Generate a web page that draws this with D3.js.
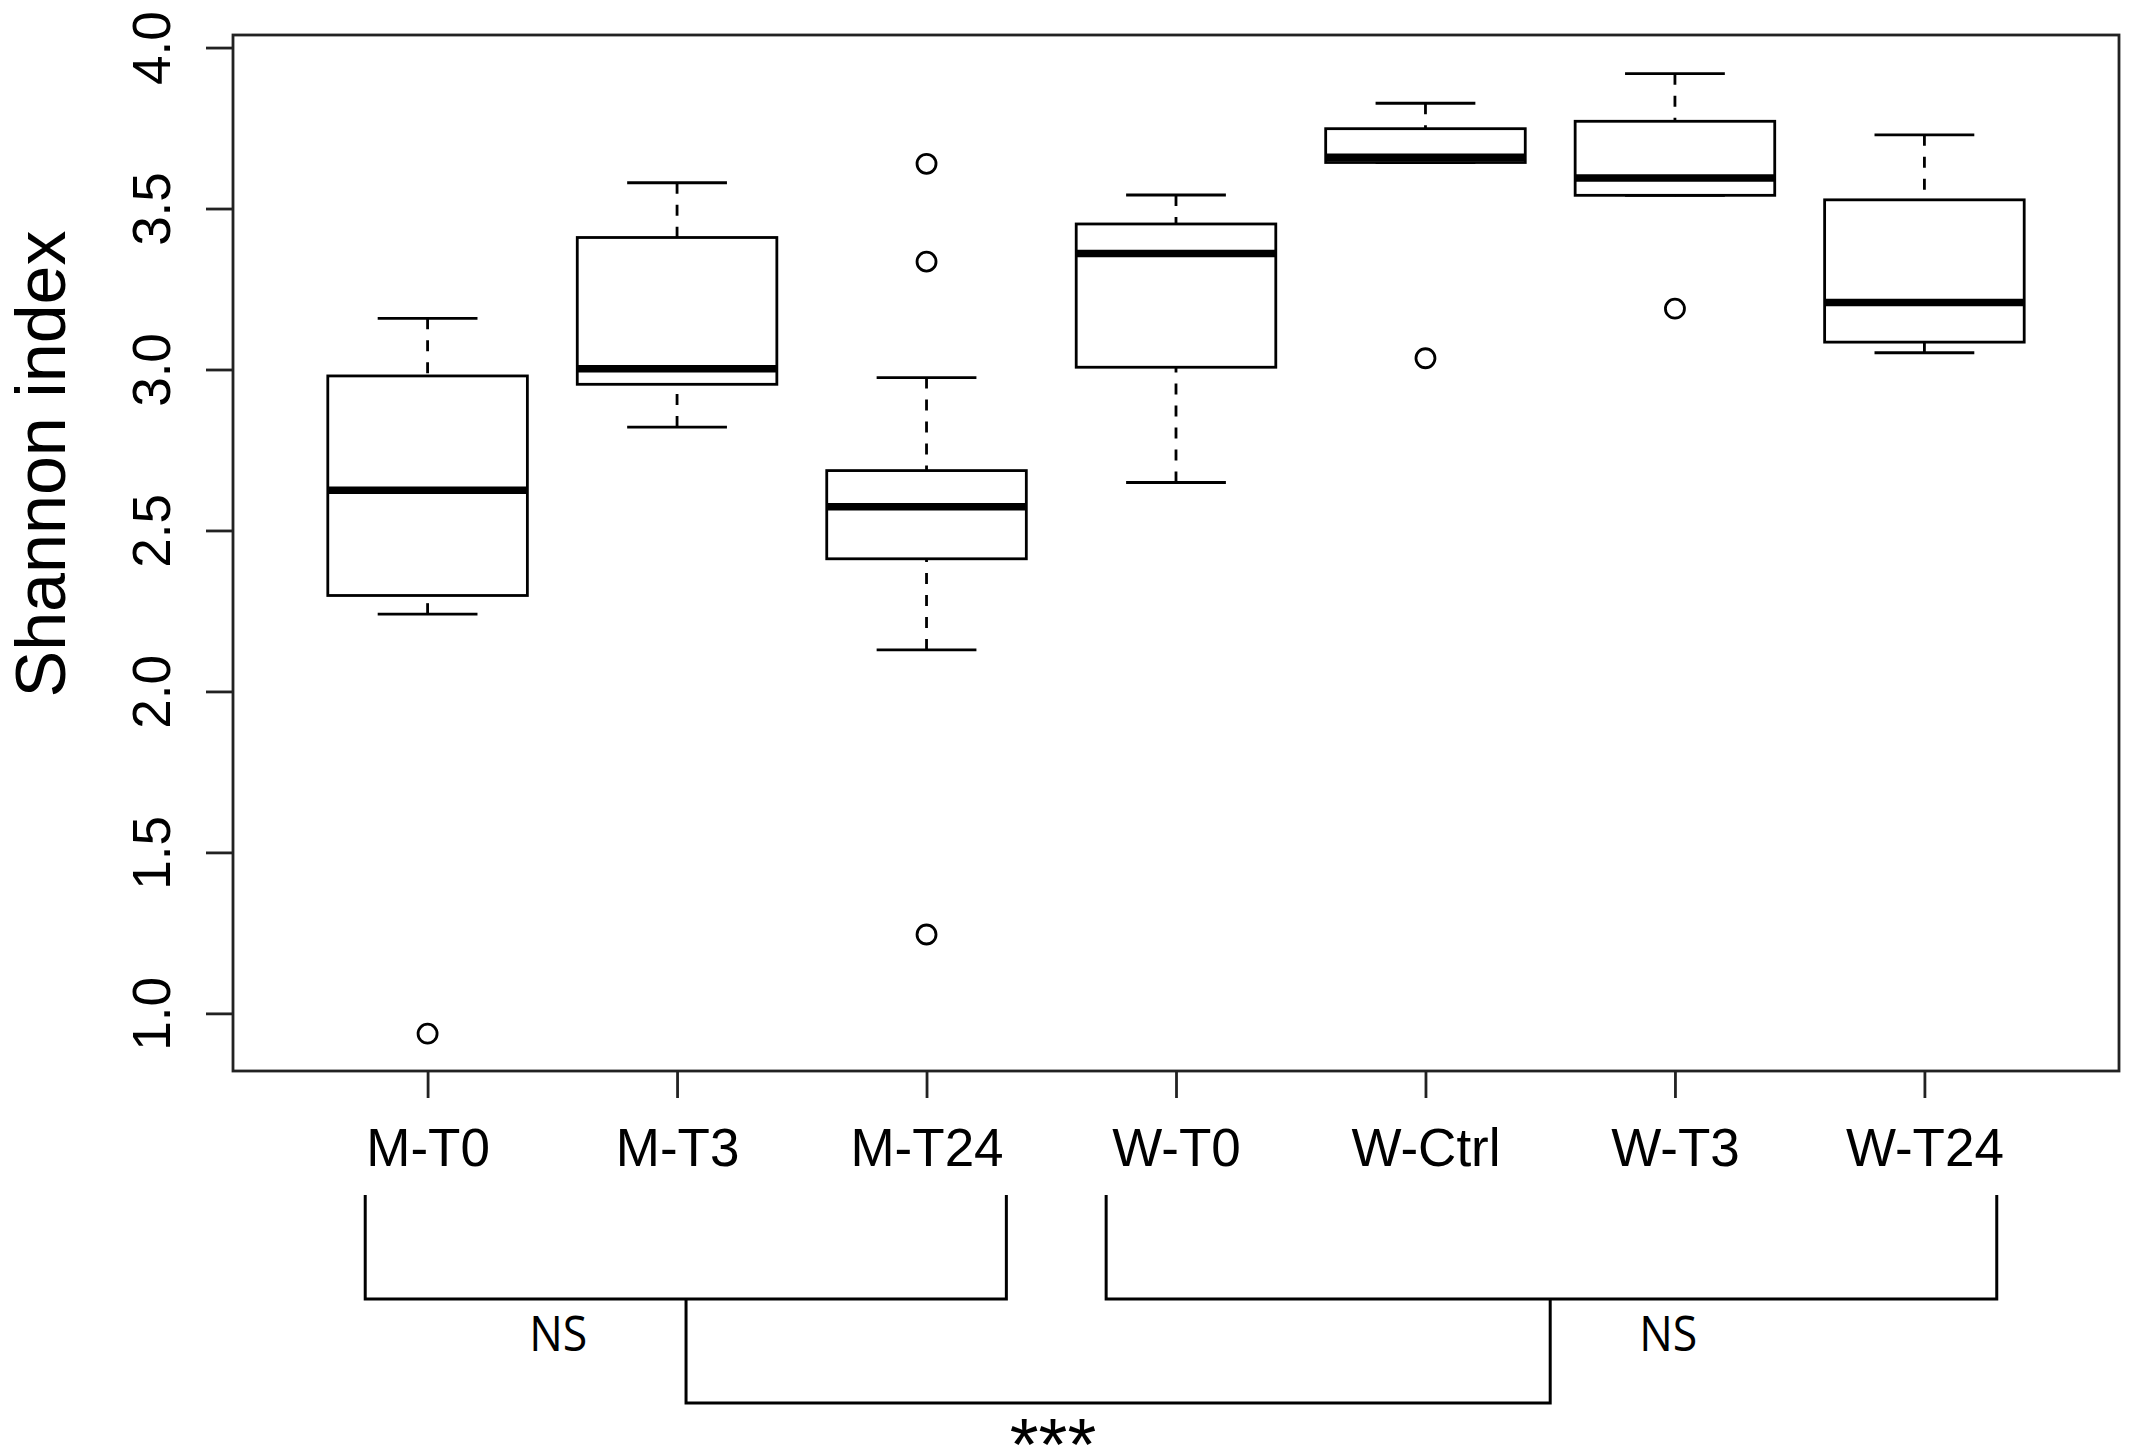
<!DOCTYPE html>
<html>
<head>
<meta charset="utf-8">
<script src="https://cdn.jsdelivr.net/npm/d3@7"></script>
<style>
  html, body { margin: 0; padding: 0; background: #fff; }
  svg { display: block; }
</style>
</head>
<body>
<div id="chart"></div>
<script>
// ---- Data ----
const categories   = ["M-T0", "M-T3", "M-T24", "W-T0", "W-Ctrl", "W-T3", "W-T24"];
const lowerWhisker = [2.240, 2.821, 2.129, 2.649, 3.643, 3.541, 3.052];
const q1           = [2.298, 2.954, 2.412, 3.007, 3.643, 3.541, 3.085];
const median       = [2.625, 3.002, 2.574, 3.360, 3.659, 3.595, 3.208];
const q3           = [2.980, 3.410, 2.686, 3.452, 3.748, 3.771, 3.527];
const upperWhisker = [3.159, 3.580, 2.975, 3.542, 3.827, 3.919, 3.729];
const outliers     = [[0.937], [], [3.639, 3.335, 1.245], [], [3.035], [3.189], []];
const yTicks       = [1.0, 1.5, 2.0, 2.5, 3.0, 3.5, 4.0];
const yLabel       = "Shannon index";
// significance brackets (positions in category units)
const groupBrackets = [
  { from: 0.75, to: 3.32, label: "NS", labelAt: 1.524 },
  { from: 3.72, to: 7.29, label: "NS", labelAt: 5.973 }
];
const betweenBracket = { from: 2.036, to: 5.50, label: "***", labelAt: 3.507 };

// ---- Layout ----
const W = 2133, H = 1455;
const plot = { left: 233, right: 2119, top: 35, bottom: 1071 };

const svg = d3.select("#chart").append("svg")
  .attr("width", W).attr("height", H)
  .attr("viewBox", `0 0 ${W} ${H}`);

const x = d3.scaleLinear().domain([0.22, 7.78]).range([plot.left, plot.right]);
const y = d3.scaleLinear().domain([0.821, 4.039]).range([plot.bottom, plot.top]);

const FONT = "'Liberation Sans', Arial, Helvetica, sans-serif";
const LW = 2.8;

// frame
svg.append("rect")
  .attr("x", plot.left).attr("y", plot.top)
  .attr("width", plot.right - plot.left).attr("height", plot.bottom - plot.top)
  .attr("fill", "none").attr("stroke", "#222").attr("stroke-width", LW);

// y axis
const yAxis = d3.axisLeft(y).tickValues(yTicks).tickSize(27).tickFormat(d3.format(".1f"));
const gy = svg.append("g").attr("transform", `translate(${plot.left},0)`).call(yAxis);
gy.select(".domain").remove();
gy.selectAll(".tick line").attr("stroke", "#222").attr("stroke-width", LW);
gy.selectAll(".tick text")
  .attr("font-family", FONT).attr("font-size", 53).attr("fill", "#000")
  .attr("x", null).attr("dy", null)
  .attr("text-anchor", "middle")
  .attr("transform", "translate(-63,0) rotate(-90)");

// x axis
const xAxis = d3.axisBottom(x).tickValues(categories.map((c, i) => i + 1))
  .tickSize(27).tickFormat((d) => categories[d - 1]);
const gx = svg.append("g").attr("transform", `translate(0,${plot.bottom})`).call(xAxis);
gx.select(".domain").remove();
gx.selectAll(".tick line").attr("stroke", "#222").attr("stroke-width", LW);
gx.selectAll(".tick text")
  .attr("font-family", FONT).attr("font-size", 53).attr("fill", "#000")
  .attr("y", 95).attr("dy", null);

// y label
svg.append("text")
  .attr("transform", "translate(65,464) rotate(-90)")
  .attr("text-anchor", "middle")
  .attr("font-family", FONT).attr("font-size", 70).attr("fill", "#000")
  .text(yLabel);

// ---- Boxes ----
const boxW = 0.8, capW = 0.4;
const data = categories.map((c, i) => ({
  i, pos: i + 1, lo: lowerWhisker[i], q1: q1[i], med: median[i], q3: q3[i], hi: upperWhisker[i], out: outliers[i]
}));

const g = svg.append("g");
const bx = g.selectAll("g.box").data(data).join("g").attr("class", "box");

// whiskers (dashed) from cap to hinge
bx.append("line")
  .attr("x1", d => x(d.pos)).attr("x2", d => x(d.pos))
  .attr("y1", d => y(d.hi)).attr("y2", d => y(d.q3))
  .attr("stroke", "#000").attr("stroke-width", LW).attr("stroke-dasharray", "11,11");
bx.append("line")
  .attr("x1", d => x(d.pos)).attr("x2", d => x(d.pos))
  .attr("y1", d => y(d.lo)).attr("y2", d => y(d.q1))
  .attr("stroke", "#000").attr("stroke-width", LW).attr("stroke-dasharray", "11,11");
// caps
bx.append("line")
  .attr("x1", d => x(d.pos - capW / 2)).attr("x2", d => x(d.pos + capW / 2))
  .attr("y1", d => y(d.hi)).attr("y2", d => y(d.hi))
  .attr("stroke", "#000").attr("stroke-width", LW);
bx.append("line")
  .attr("x1", d => x(d.pos - capW / 2)).attr("x2", d => x(d.pos + capW / 2))
  .attr("y1", d => y(d.lo)).attr("y2", d => y(d.lo))
  .attr("stroke", "#000").attr("stroke-width", LW);
// box
bx.append("rect")
  .attr("x", d => x(d.pos - boxW / 2))
  .attr("width", d => x(d.pos + boxW / 2) - x(d.pos - boxW / 2))
  .attr("y", d => y(d.q3))
  .attr("height", d => y(d.q1) - y(d.q3))
  .attr("fill", "#fff").attr("stroke", "#000").attr("stroke-width", LW);
// median
bx.append("line")
  .attr("x1", d => x(d.pos - boxW / 2)).attr("x2", d => x(d.pos + boxW / 2))
  .attr("y1", d => y(d.med)).attr("y2", d => y(d.med))
  .attr("stroke", "#000").attr("stroke-width", 7.5);
// outliers
bx.selectAll("circle").data(d => d.out.map(v => ({ pos: d.pos, v }))).join("circle")
  .attr("cx", d => x(d.pos)).attr("cy", d => y(d.v)).attr("r", 9.5)
  .attr("fill", "none").attr("stroke", "#000").attr("stroke-width", LW);

// ---- Significance brackets ----
const yTop = 1195, yMid = 1299, yLow = 1403;
const ann = svg.append("g");
groupBrackets.forEach(b => {
  ann.append("path")
    .attr("d", `M${x(b.from)},${yTop} V${yMid} H${x(b.to)} V${yTop}`)
    .attr("fill", "none").attr("stroke", "#000").attr("stroke-width", 3);
  ann.append("text")
    .attr("x", x(b.labelAt)).attr("y", 1351)
    .attr("text-anchor", "middle")
    .attr("font-family", "'Open Sans', 'Noto Sans', sans-serif")
    .attr("font-size", 50).attr("fill", "#000")
    .attr("textLength", 58).attr("lengthAdjust", "spacingAndGlyphs")
    .text(b.label);
});
ann.append("path")
  .attr("d", `M${x(betweenBracket.from)},${yMid} V${yLow} H${x(betweenBracket.to)} V${yMid}`)
  .attr("fill", "none").attr("stroke", "#000").attr("stroke-width", 3);
ann.append("text")
  .attr("x", x(betweenBracket.labelAt)).attr("y", 1470)
  .attr("text-anchor", "middle")
  .attr("font-family", FONT).attr("font-size", 74).attr("fill", "#000")
  .text(betweenBracket.label);
</script>
</body>
</html>
